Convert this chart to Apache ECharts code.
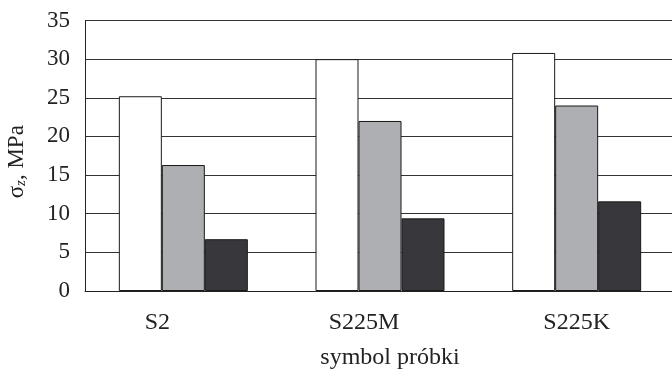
<!DOCTYPE html>
<html><head><meta charset="utf-8">
<script src="https://cdn.jsdelivr.net/npm/echarts@6/dist/echarts.min.js"></script>
<style>html,body{margin:0;padding:0;background:#fff}#c{width:672px;height:371px}</style>
</head><body><div id="c"></div>
<script>
const categories = ['S2', 'S225M', 'S225K'];
const seriesA = [25.2, 30.0, 30.8];
const seriesB = [16.3, 22.0, 24.0];
const seriesC = [6.7, 9.4, 11.6];
const yTicks = [0, 5, 10, 15, 20, 25, 30, 35];

const font = '"Liberation Serif", "Times New Roman", serif';
const labelShift = {S2: 'l1', S225M: 'l2', S225K: 'l3'};
const chart = echarts.init(document.getElementById('c'));
const barStyle = (c) => ({color: c, borderColor: '#1a1a1a', borderWidth: 1});
chart.setOption({
  animation: false,
  grid: {left: 85, top: 20.5, right: -3, bottom: 80, containLabel: false, outerBoundsMode: 'none'},
  xAxis: {
    type: 'category', data: categories,
    axisLine: {lineStyle: {color: '#222', width: 1}},
    axisTick: {show: false},
    axisLabel: {
      margin: 20, color: '#222', fontFamily: font, fontSize: 24,
      formatter: v => '{' + labelShift[v] + '|' + v + '}',
      rich: {
        l1: {fontFamily: font, fontSize: 24, color: '#222', padding: [0, 52, 0, 0]},
        l2: {fontFamily: font, fontSize: 24, color: '#222', padding: [0, 32, 0, 0]},
        l3: {fontFamily: font, fontSize: 24, color: '#222', padding: [0, 0, 4, 0]}
      }
    },
    name: 'symbol próbki', nameLocation: 'middle', nameGap: 55,
    nameTextStyle: {fontFamily: font, fontSize: 24, color: '#222', padding: [0, 0, 0, 20]}
  },
  yAxis: {
    type: 'value', min: yTicks[0], max: yTicks[yTicks.length - 1], interval: 5,
    axisLine: {show: true, lineStyle: {color: '#222', width: 1}},
    axisTick: {show: false},
    splitLine: {lineStyle: {color: '#333', width: 1}},
    axisLabel: {margin: 15, color: '#222', fontFamily: font, fontSize: 23},
    name: '{s|σ}{z|z}{s|, MPa}', nameLocation: 'middle', nameGap: 56, nameRotate: 90,
    nameTextStyle: {
      fontFamily: font, fontSize: 23, color: '#222', padding: [0, 12, 0, 0],
      rich: {
        s: {fontFamily: font, fontSize: 23, color: '#222'},
        z: {fontFamily: font, fontSize: 15, fontStyle: 'italic', color: '#222', padding: [10, 0, 0, 0]}
      }
    }
  },
  series: [
    {type: 'bar', data: seriesA, barWidth: 43, barGap: '0%', itemStyle: barStyle('#ffffff')},
    {type: 'bar', data: seriesB, barWidth: 43, barGap: '0%', itemStyle: barStyle('#aeafb3')},
    {type: 'bar', data: seriesC, barWidth: 43, barGap: '0%', itemStyle: barStyle('#38373b')}
  ]
});
</script></body></html>
